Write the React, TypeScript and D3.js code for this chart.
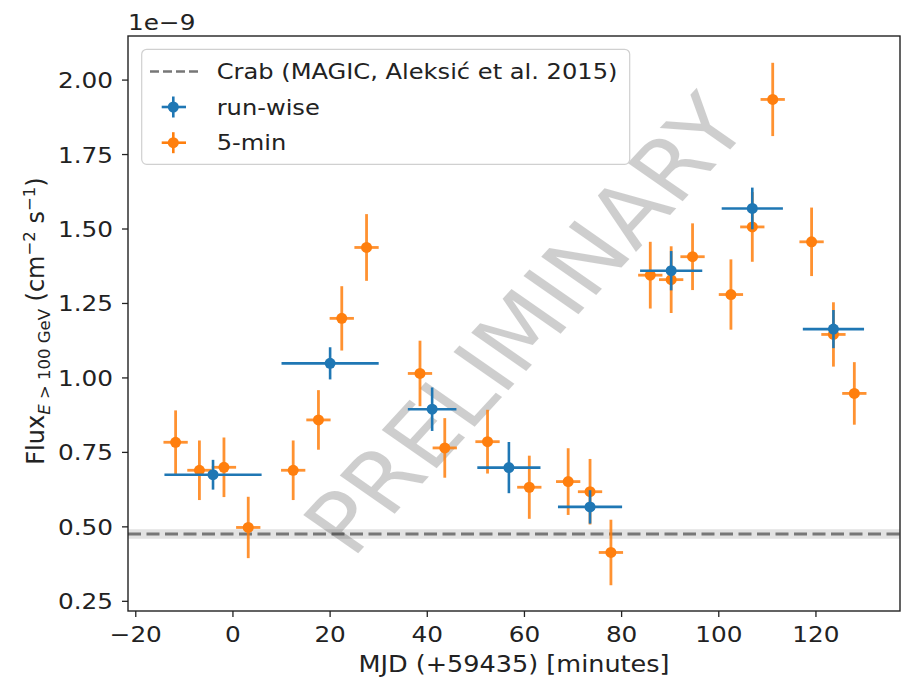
import React from "react";
import * as d3 from "d3";

const runX = [-4.1, 20.0, 41.0, 56.8, 73.5, 90.2, 106.9, 123.6];
const runXErr = [10.0, 10.0, 5.0, 6.5, 6.6, 6.4, 6.3, 6.3];
const runY = [0.675, 1.049, 0.895, 0.699, 0.567, 1.36, 1.569, 1.164];
const runYErr = [0.05, 0.054, 0.073, 0.086, 0.056, 0.066, 0.07, 0.064];

const fiveX = [-11.8, -6.9, -1.85, 3.15, 12.4, 17.6, 22.4, 27.5, 38.5, 43.6, 52.4, 61.0, 69.0, 73.5, 77.8, 85.9, 90.2, 94.6, 102.5, 106.9, 111.1, 119.1, 123.6, 127.9];
const fiveXErr = [2.5, 2.5, 2.5, 2.5, 2.5, 2.5, 2.5, 2.5, 2.5, 2.5, 2.5, 2.5, 2.5, 2.5, 2.5, 2.5, 2.5, 2.5, 2.5, 2.5, 2.5, 2.5, 2.5, 2.5];
const fiveY = [0.784, 0.69, 0.70, 0.498, 0.69, 0.859, 1.20, 1.438, 1.015, 0.765, 0.786, 0.633, 0.652, 0.618, 0.414, 1.345, 1.33, 1.407, 1.28, 1.507, 1.935, 1.457, 1.146, 0.948];
const fiveYErr = [0.107, 0.1, 0.1, 0.103, 0.1, 0.1, 0.108, 0.112, 0.11, 0.1, 0.107, 0.106, 0.112, 0.11, 0.11, 0.112, 0.112, 0.112, 0.118, 0.117, 0.123, 0.115, 0.108, 0.105];

const crabFlux = 0.476;
const crabErr = 0.016;

const xTicks = [-20, 0, 20, 40, 60, 80, 100, 120];
const yTicks = [0.25, 0.5, 0.75, 1.0, 1.25, 1.5, 1.75, 2.0];
const legendLabels = ["Crab (MAGIC, Aleksić et al. 2015)", "run-wise", "5-min"];

const BLUE = "#1f77b4";
const ORANGE = "#ff7f0e";
const FONT = "'DejaVu Sans', sans-serif";
const SX = 1.15;
const FS = 21;

const L = 128, R = 900, T = 36, B = 611;

function Txt({ x, y, anchor = "start", size = FS, rotate = 0, sx = SX, children, fill = "#222", opacity = 1 }: any) {
  return (
    <text
      transform={`translate(${x},${y}) scale(${sx},1)${rotate ? ` rotate(${rotate})` : ""}`}
      textAnchor={anchor}
      fontSize={size}
      fontFamily={FONT}
      fill={fill}
      opacity={opacity}
    >
      {children}
    </text>
  );
}

export default function App() {
  const x = d3.scaleLinear().domain([-21.6, 137.3]).range([L, R]);
  const y = d3.scaleLinear().domain([0.2175, 2.148]).range([B, T]);

  const errPts = (xs: number[], xe: number[], ys: number[], ye: number[], color: string, lw: number, op: number) =>
    xs.map((xv, i) => (
      <g key={i}>
        <line x1={x(xv - xe[i])} x2={x(xv + xe[i])} y1={y(ys[i])} y2={y(ys[i])} stroke={color} strokeWidth={lw} opacity={op} />
        <line x1={x(xv)} x2={x(xv)} y1={y(ys[i] - ye[i])} y2={y(ys[i] + ye[i])} stroke={color} strokeWidth={lw} opacity={op} />
        <circle cx={x(xv)} cy={y(ys[i])} r={5.5} fill={color} />
      </g>
    ));

  const legX = 141.7, legY = 49.3;
  const rowY = [71.5, 107, 142.7];

  return (
    <svg width={905} height={680} style={{ position: "absolute", left: 0, top: 0, background: "#fff" }}>
      <defs>
        <clipPath id="clipAx">
          <rect x={L} y={T} width={R - L} height={B - T} />
        </clipPath>
      </defs>
      <rect x={0} y={0} width={905} height={680} fill="#fff" />
      {/* Crab band and line */}
      <rect x={L} width={R - L} y={y(crabFlux + crabErr)} height={y(crabFlux - crabErr) - y(crabFlux + crabErr)} fill="#e3e3e3" />
      <line x1={L} x2={R} y1={y(crabFlux)} y2={y(crabFlux)} stroke="#777" strokeWidth={3} strokeDasharray="13,5.5" />

      {/* watermark */}
      <g clipPath="url(#clipAx)">
        <Txt x={552} y={343} anchor="middle" size={84} rotate={-51.3} fill="#000" opacity={0.19}>PRELIMINARY</Txt>
      </g>

      {errPts(fiveX, fiveXErr, fiveY, fiveYErr, ORANGE, 2.8, 0.85)}
      {errPts(runX, runXErr, runY, runYErr, BLUE, 2.6, 1)}

      {/* spines */}
      <rect x={L} y={T} width={R - L} height={B - T} fill="none" stroke="#222" strokeWidth={1.4} />

      {/* x ticks */}
      {xTicks.map((t) => (
        <g key={t}>
          <line x1={x(t)} x2={x(t)} y1={B} y2={B + 6} stroke="#222" strokeWidth={1.3} />
          <Txt x={x(t)} y={642} anchor="middle" size={21.5}>{t < 0 ? `\u2212${Math.abs(t)}` : `${t}`}</Txt>
        </g>
      ))}
      {/* y ticks */}
      {yTicks.map((t) => (
        <g key={t}>
          <line x1={L - 6} x2={L} y1={y(t)} y2={y(t)} stroke="#222" strokeWidth={1.3} />
          <Txt x={113} y={y(t) + 8} anchor="end" size={21.5}>{t.toFixed(2)}</Txt>
        </g>
      ))}

      <Txt x={L} y={30} size={21.5}>1e{"\u2212"}9</Txt>

      <Txt x={(L + R) / 2} y={672} anchor="middle" size={22.2}>MJD (+59435) [minutes]</Txt>

      <Txt x={44} y={321} anchor="middle" rotate={-90} size={24} sx={1}>
        Flux
        <tspan dy={5.5} fontSize={16.5}>
          <tspan fontStyle="italic">E</tspan> {">"} 100 GeV
        </tspan>
        <tspan dy={-5.5} fontSize={24}> (cm</tspan>
        <tspan dy={-9} fontSize={16.5}>{"\u2212"}2</tspan>
        <tspan dy={9} fontSize={24}> s</tspan>
        <tspan dy={-9} fontSize={16.5}>{"\u2212"}1</tspan>
        <tspan dy={9} fontSize={24}>)</tspan>
      </Txt>

      {/* legend */}
      <rect x={legX} y={legY} width={488} height={115} rx={5} fill="#fff" fillOpacity={0.8} stroke="#d0d0d0" strokeWidth={1.2} />
      <line x1={150} x2={198} y1={rowY[0]} y2={rowY[0]} stroke="#777" strokeWidth={2.5} strokeDasharray="9,4" />
      {[BLUE, ORANGE].map((c, i) => (
        <g key={c}>
          <line x1={161.7} x2={186} y1={rowY[i + 1]} y2={rowY[i + 1]} stroke={c} strokeWidth={2.6} />
          <line x1={173.3} x2={173.3} y1={rowY[i + 1] - 10.5} y2={rowY[i + 1] + 10.5} stroke={c} strokeWidth={2.6} />
          <circle cx={173.3} cy={rowY[i + 1]} r={5.5} fill={c} />
        </g>
      ))}
      {legendLabels.map((lab, i) => (
        <Txt key={lab} x={216.7} y={rowY[i] + 7.5}>{lab}</Txt>
      ))}
    </svg>
  );
}
